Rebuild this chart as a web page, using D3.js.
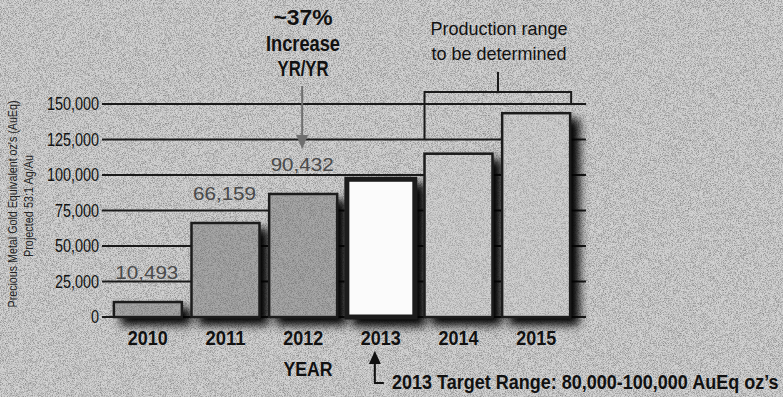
<!DOCTYPE html>
<html>
<head>
<meta charset="utf-8">
<script src="https://cdn.jsdelivr.net/npm/d3@7"></script>
<style>
  body { margin: 0; background: #c4c4c4; }
  svg { display: block; }
  text { font-family: "Liberation Sans", Arial, sans-serif; }
</style>
</head>
<body>
<svg id="chart" width="783" height="397"></svg>
<script>
// data
var years = ["2010", "2011", "2012", "2013", "2014", "2015"];
var barValues = [10493, 66159, 86600, 97000, 115000, 143500];
var valueLabels = ["10,493", "66,159", "90,432", "", "", ""];
var barFills = ["#a6a6a6", "#a6a6a6", "#a6a6a6", "#fbfbfb", "#d0d0d0", "#d0d0d0"];
var yTicks = [0, 25000, 50000, 75000, 100000, 125000, 150000];

var svg = d3.select("#chart");

// squeeze a text to look like a condensed face
function condense(sel, k) {
  sel.each(function () {
    var w = this.getComputedTextLength();
    d3.select(this).attr("textLength", w * k).attr("lengthAdjust", "spacingAndGlyphs");
  });
}
function fit(sel, w) {
  sel.attr("textLength", w).attr("lengthAdjust", "spacingAndGlyphs");
}

var defs = svg.append("defs");
var noise = defs.append("filter").attr("id", "noise").attr("x", 0).attr("y", 0).attr("width", "100%").attr("height", "100%");
noise.append("feTurbulence").attr("type", "fractalNoise").attr("baseFrequency", 1.4).attr("numOctaves", 1).attr("seed", 3).attr("result", "t");
noise.append("feColorMatrix").attr("in", "t").attr("type", "matrix")
  .attr("values", "0 0 0 0 0  0 0 0 0 0  0 0 0 0 0  0 0 0 -2.2 1.3");

var shadow = defs.append("filter").attr("id", "shadow").attr("x", "-20%").attr("y", "-20%").attr("width", "160%").attr("height", "160%");
shadow.append("feGaussianBlur").attr("in", "SourceAlpha").attr("stdDeviation", 5).attr("result", "b");
shadow.append("feOffset").attr("in", "b").attr("dx", 8).attr("dy", 7).attr("result", "o");
shadow.append("feComponentTransfer").attr("in", "o").attr("result", "o2")
  .append("feFuncA").attr("type", "linear").attr("slope", 1);
var m = shadow.append("feMerge");
m.append("feMergeNode").attr("in", "o2");
m.append("feMergeNode").attr("in", "SourceGraphic");

// noisy paper background
svg.append("rect").attr("width", 783).attr("height", 397).attr("fill", "#d2d2d2");
svg.append("rect").attr("width", 783).attr("height", 397).attr("fill", "#000").attr("filter", "url(#noise)").attr("opacity", 0.4);

var x = d3.scaleBand().domain(years).range([109, 575]).paddingInner(0.125).paddingOuter(0.0625);
var y = d3.scaleLinear().domain([0, 150000]).range([317, 104]);

// gridlines
svg.append("g").selectAll("line").data(yTicks).join("line")
  .attr("x1", 102).attr("x2", 586)
  .attr("y1", d => y(d)).attr("y2", d => y(d))
  .attr("stroke", "#1a1a1a").attr("stroke-width", 2);

// y axis labels
var yAxis = d3.axisLeft(y).tickValues(yTicks).tickSize(0).tickPadding(3)
  .tickFormat(d3.format(","));
var gy = svg.append("g").attr("transform", "translate(102,0)").call(yAxis);
gy.select(".domain").remove();
gy.selectAll("text").attr("font-size", 18).attr("fill", "#111")
  .style("font-family", "'Liberation Sans', Arial, sans-serif")
  .call(condense, 0.8);

// bars
var bars = svg.append("g").attr("filter", "url(#shadow)");
bars.selectAll("rect").data(years).join("rect")
  .attr("x", d => x(d))
  .attr("y", (d, i) => y(barValues[i]))
  .attr("width", x.bandwidth())
  .attr("height", (d, i) => y(0) - y(barValues[i]))
  .attr("fill", (d, i) => barFills[i])
  .attr("stroke", "#1a1a1a")
  .attr("stroke-width", (d, i) => i == 3 ? 5 : 2.5);
// speckle on the grey bars
svg.append("g").selectAll("rect").data(years.filter((d, i) => i != 3)).join("rect")
  .attr("x", d => x(d) + 2)
  .attr("y", d => y(barValues[years.indexOf(d)]) + 2)
  .attr("width", x.bandwidth() - 4)
  .attr("height", d => y(0) - y(barValues[years.indexOf(d)]) - 4)
  .attr("fill", "#000").attr("filter", "url(#noise)").attr("opacity", 0.3);

// value labels
svg.append("g").selectAll("text").data(years.filter((d, i) => valueLabels[i])).join("text")
  .attr("x", d => x(d) + x.bandwidth() / 2 - 1)
  .attr("y", d => y(barValues[years.indexOf(d)]) - 23)
  .attr("text-anchor", "middle")
  .attr("font-size", 19).attr("fill", "#4a4a4a")
  .text(d => valueLabels[years.indexOf(d)])
  .call(fit, 63);

// x axis labels
var xAxis = d3.axisBottom(x).tickSize(0).tickPadding(14);
var gx = svg.append("g").attr("transform", "translate(0,317)").call(xAxis);
gx.select(".domain").remove();
gx.selectAll("text").attr("font-size", 20).attr("font-weight", "bold").attr("fill", "#111")
  .style("font-family", "'Liberation Sans', Arial, sans-serif")
  .call(fit, 40);

// y axis title
svg.append("text").attr("transform", "translate(17,204) rotate(-90)")
  .attr("text-anchor", "middle").attr("font-size", 12.5).attr("fill", "#222")
  .text("Precious Metal Gold Equivalent oz's (AuEq)").call(fit, 207);
svg.append("text").attr("transform", "translate(33,206) rotate(-90)")
  .attr("text-anchor", "middle").attr("font-size", 12.5).attr("fill", "#222")
  .text("Projected 53:1 Ag/Au").call(fit, 102);

// ~37% note with arrow
var noteLines = [["~37%", 59], ["Increase", 74], ["YR/YR", 51]];
noteLines.forEach(function (t, i) {
  svg.append("text").attr("x", 303).attr("y", 25 + i * 25.5)
    .attr("text-anchor", "middle").attr("font-weight", "bold")
    .attr("font-size", 22).attr("fill", "#111")
    .text(t[0]).call(fit, t[1]);
});
var ax = x("2012") + x.bandwidth() / 2 - 1;
svg.append("line").attr("x1", ax).attr("x2", ax).attr("y1", 86).attr("y2", 138)
  .attr("stroke", "#6f6f6f").attr("stroke-width", 2);
svg.append("path").attr("d", "M" + (ax - 6) + ",135 L" + (ax + 6) + ",135 L" + ax + ",149 Z").attr("fill", "#6f6f6f");

// production range bracket
var bx0 = x("2014"), bx1 = x("2015") + x.bandwidth() + 1;
[["Production range", 137], ["to be determined", 135]].forEach(function (t, i) {
  svg.append("text").attr("x", 499).attr("y", 35 + i * 25)
    .attr("text-anchor", "middle").attr("font-size", 19).attr("fill", "#111")
    .text(t[0]).call(fit, t[1]);
});
svg.append("path")
  .attr("d", "M" + bx0 + "," + y(125000) + " V92 H" + bx1 + " V" + (y(150000) + 1))
  .attr("fill", "none").attr("stroke", "#1a1a1a").attr("stroke-width", 2);
svg.append("line").attr("x1", 498).attr("x2", 498).attr("y1", 72).attr("y2", 92)
  .attr("stroke", "#1a1a1a").attr("stroke-width", 2);

// YEAR and 2013 target note
svg.append("text").attr("x", 308).attr("y", 376).attr("text-anchor", "middle")
  .attr("font-size", 20).attr("font-weight", "bold").attr("fill", "#111")
  .text("YEAR").call(fit, 49);
var tx = x("2013") + 28;
svg.append("path").attr("d", "M" + tx + ",360 V383 H" + (tx + 9))
  .attr("fill", "none").attr("stroke", "#111").attr("stroke-width", 2);
svg.append("path").attr("d", "M" + (tx - 6) + ",364 L" + (tx + 6) + ",364 L" + tx + ",351 Z").attr("fill", "#111");
svg.append("text").attr("transform", "translate(392,389) scale(1,1.12)")
  .attr("font-size", 18).attr("font-weight", "bold").attr("fill", "#111")
  .text("2013 Target Range: 80,000-100,000 AuEq oz\u2019s");
</script>
</body>
</html>
